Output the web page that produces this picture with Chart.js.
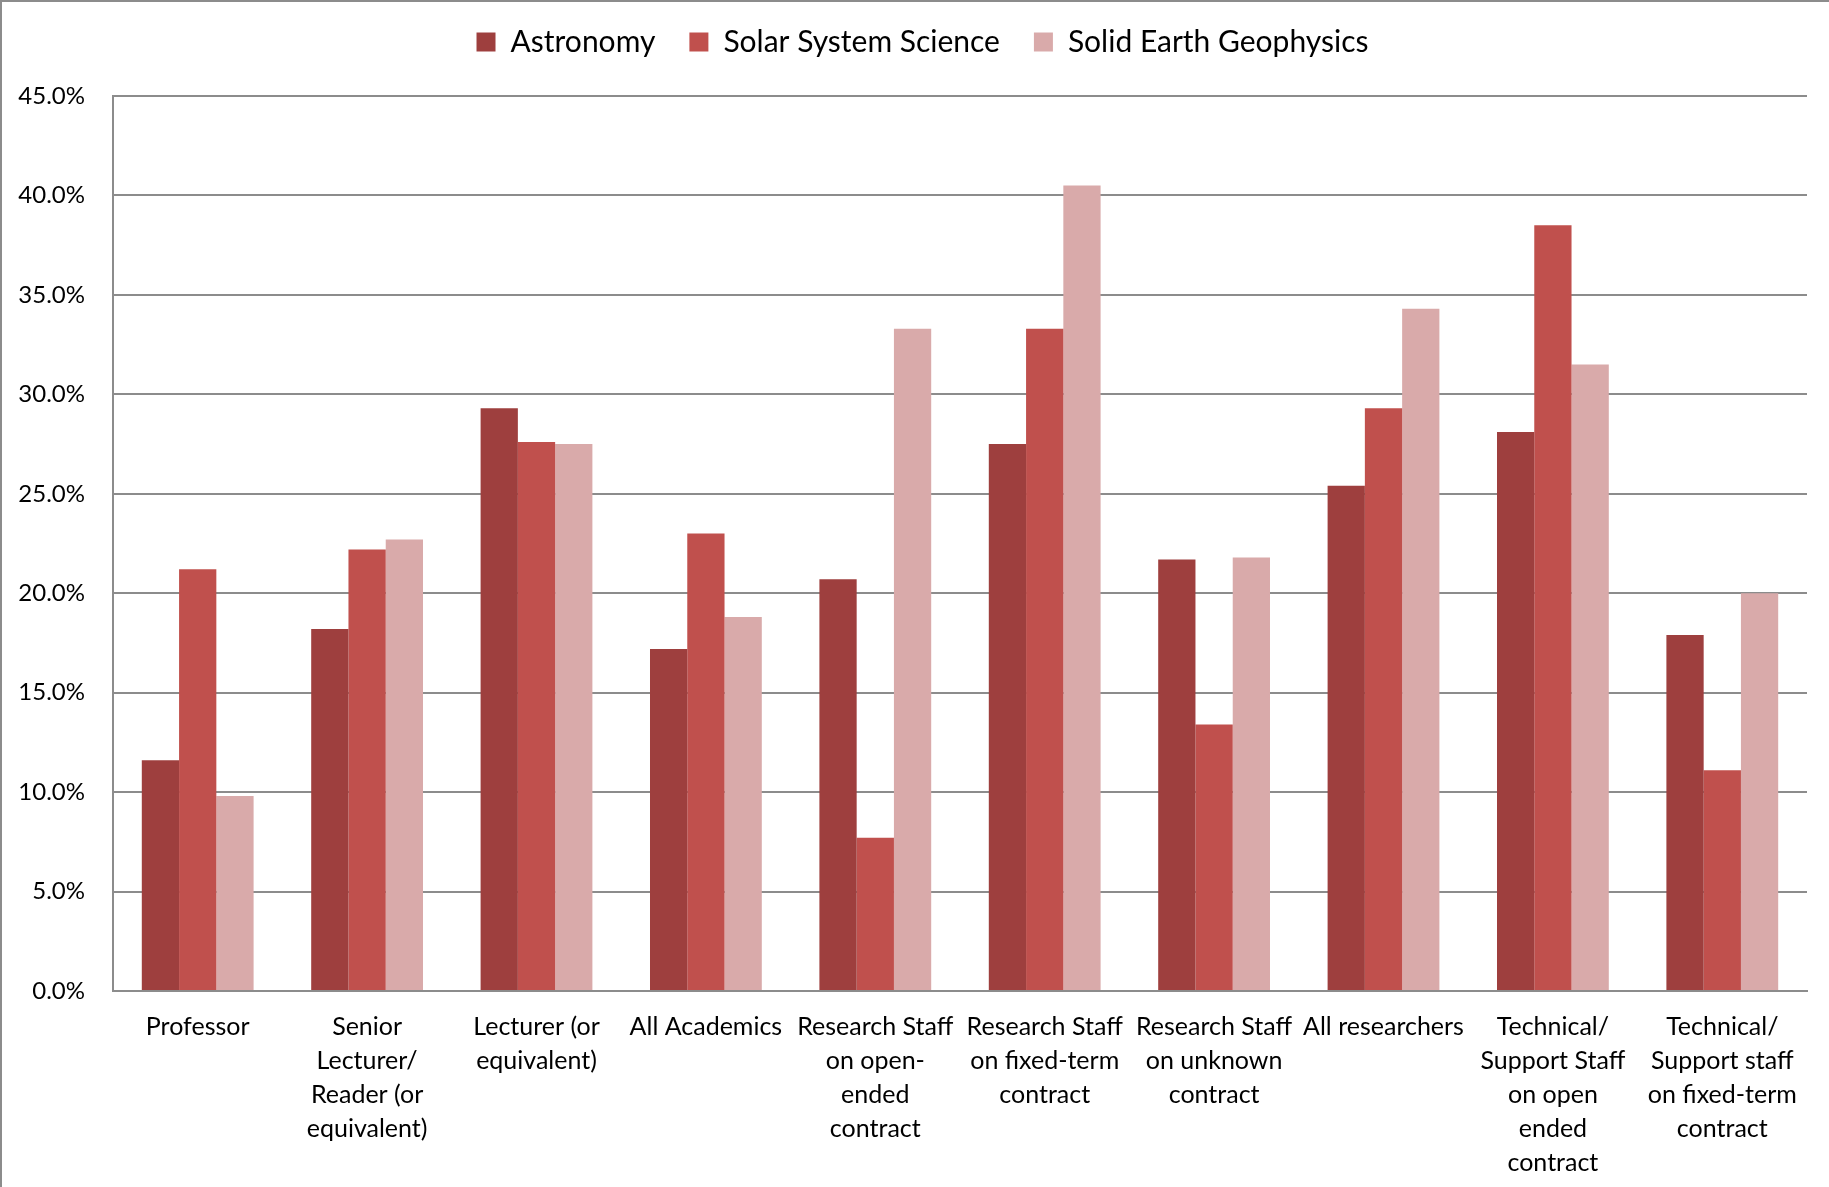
<!DOCTYPE html>
<html>
<head>
<meta charset="utf-8">
<script src="https://cdn.jsdelivr.net/npm/chart.js@4/dist/chart.umd.min.js"></script>
<style>
  html, body { margin: 0; padding: 0; background: #fff; }
  #wrap { position: relative; width: 1829px; height: 1187px; box-sizing: border-box; border: 2px solid #8c8c8c; border-right: none; border-bottom: none; }
  canvas { display: block; }
</style>
</head>
<body>
<div id="wrap"><canvas id="c" width="1827" height="1185"></canvas></div>
<script>
const categories = [
  ["Professor"],
  ["Senior", "Lecturer/", "Reader (or", "equivalent)"],
  ["Lecturer (or", "equivalent)"],
  ["All Academics"],
  ["Research Staff", "on open-", "ended", "contract"],
  ["Research Staff", "on fixed-term", "contract"],
  ["Research Staff", "on unknown", "contract"],
  ["All researchers"],
  ["Technical/", "Support Staff", "on open", "ended", "contract"],
  ["Technical/", "Support staff", "on fixed-term", "contract"]
];
const seriesNames = ["Astronomy", "Solar System Science", "Solid Earth Geophysics"];
const astronomy = [11.6, 18.2, 29.3, 17.2, 20.7, 27.5, 21.7, 25.4, 28.1, 17.9];
const solarSystem = [21.2, 22.2, 27.6, 23.0, 7.7, 33.3, 13.4, 29.3, 38.5, 11.1];
const solidEarth = [9.8, 22.7, 27.5, 18.8, 33.3, 40.5, 21.8, 34.3, 31.5, 20.0];
const yTicks = [0, 5, 10, 15, 20, 25, 30, 35, 40, 45];

const colors = ["#9E3F3E", "#C0504D", "#D9AAAA"];
const font = "Lato, 'Open Sans', sans-serif";

// Adds extra space below the legend and nudges it right to match the reference.
const legendSpacer = {
  id: 'legendSpacer',
  afterInit(chart) {
    const lg = chart.legend;
    if (!lg) return;
    const origFit = lg.fit;
    lg.fit = function () { origFit.call(this); this.height += 29; };
    const origDraw = lg.draw;
    lg.draw = function () {
      const ctx = this.ctx;
      ctx.save();
      ctx.translate(14, 0);
      origDraw.call(this);
      ctx.restore();
    };
  }
};

new Chart(document.getElementById('c'), {
  type: 'bar',
  data: {
    labels: categories,
    datasets: [
      { label: seriesNames[0], data: astronomy, backgroundColor: colors[0] },
      { label: seriesNames[1], data: solarSystem, backgroundColor: colors[1] },
      { label: seriesNames[2], data: solidEarth, backgroundColor: colors[2] }
    ]
  },
  plugins: [legendSpacer],
  options: {
    responsive: false,
    animation: false,
    datasets: { bar: { barPercentage: 1.0, categoryPercentage: 0.66, borderWidth: 0 } },
    layout: { padding: { left: 8, right: 22, top: -9, bottom: -12 } },
    plugins: {
      tooltip: { enabled: false },
      legend: {
        position: 'top',
        labels: {
          color: '#000',
          font: { family: font, size: 30 },
          boxWidth: 19, boxHeight: 19,
          padding: 34
        }
      }
    },
    scales: {
      x: {
        grid: { display: false, drawTicks: false },
        border: { color: '#8c8c8c', width: 2 },
        ticks: {
          color: '#000',
          font: { family: font, size: 25, lineHeight: 1.36 },
          maxRotation: 0, autoSkip: false, padding: 19
        }
      },
      y: {
        min: 0, max: 45,
        afterBuildTicks: (scale) => { scale.ticks = yTicks.map(v => ({ value: v })); },
        grid: { color: '#8c8c8c', lineWidth: 2, drawTicks: false },
        border: { color: '#8c8c8c', width: 2 },
        ticks: {
          color: '#000',
          font: { family: font, size: 24 },
          padding: 28,
          callback: (v) => Number(v).toFixed(1) + '%'
        },
        afterFit: (scale) => { scale.width = 103; }
      }
    }
  }
});
</script>
</body>
</html>
